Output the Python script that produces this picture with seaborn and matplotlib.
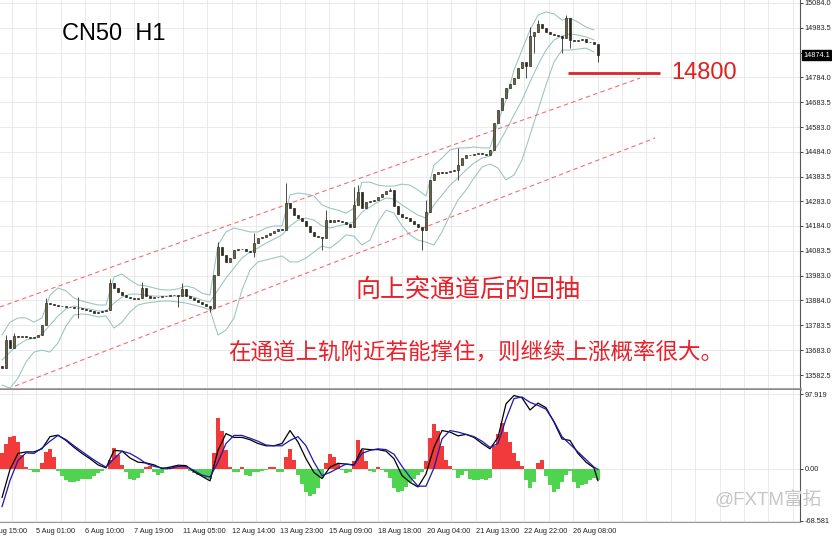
import matplotlib
matplotlib.use("Agg")
import matplotlib.pyplot as plt
import matplotlib.transforms as mtrans
import numpy as np
import seaborn as sns

sns.set_theme(style="white")
plt.rcParams["font.family"] = ["Liberation Sans", "Noto Sans CJK SC", "DejaVu Sans"]

# --- CN50 H1 price bars (one candle per ~2.6 h slot) ---
first_open = 13620
close = [
    13611, 13724, 13692, 13740, 13736, 13740, 13736, 13732, 13736, 13744,
    13784, 13873, 13869, 13865, 13861, 13861, 13857, 13857, 13853, 13853,
    13849, 13845, 13841, 13833, 13837, 13841, 13845, 13954, 13934, 13918,
    13905, 13897, 13893, 13889, 13893, 13934, 13901, 13893, 13897, 13897,
    13901, 13901, 13905, 13905, 13901, 13930, 13901, 13893, 13885, 13877,
    13869, 13861, 13853, 13986, 14099, 14067, 14039, 14055, 14087, 14091,
    14091, 14083, 14079, 14115, 14135, 14139, 14148, 14156, 14164, 14172,
    14168, 14277, 14257, 14228, 14216, 14204, 14184, 14160, 14143, 14139,
    14135, 14208, 14200, 14208, 14204, 14200, 14192, 14180, 14269, 14321,
    14257, 14281, 14285, 14289, 14301, 14313, 14325, 14329, 14265, 14232,
    14220, 14216, 14204, 14192, 14180, 14168, 14240, 14370, 14394, 14402,
    14398, 14402, 14406, 14410, 14430, 14458, 14470, 14470, 14474, 14479,
    14474, 14470, 14491, 14600, 14652, 14701, 14741, 14757, 14781, 14822,
    14846, 14830, 14951, 14967, 15000, 14983, 14967, 14959, 14955, 14951,
    14943, 15023, 14935, 14931, 14935, 14939, 14926, 14926, 14918, 14874.1,
]
# bars whose wick sticks out of the body
wick_bar = [1, 3, 11, 19, 27, 35, 44, 45, 52, 54, 63, 71, 80, 81, 88, 89, 97,
            105, 106, 114, 131, 132, 133, 134, 140, 141, 142, 149]
nan = np.nan
wick_high = [13745, 13752, 13893, 13897, 13970, 13958, nan, 13954, nan, 14119,
             14156, 14357, nan, 14248, 14341, 14349, 14337, nan, 14289, 14499,
             nan, 14987, nan, 15015, nan, 15035, nan, nan]
wick_low = [nan, nan, nan, 13813, nan, nan, 13857, nan, 13837, nan,
            14059, nan, 14087, nan, nan, nan, nan, 14087, nan, 14370,
            14781, nan, 14882, nan, 14882, nan, 14902, 14846]

# --- Bollinger bands, every second bar ---
bb_bar = list(range(0, 150, 2))
bb_upper = [
    13744, 13796, 13813, 13813, 13796, 13813, 13905, 13934, 13922, 13893,
    13881, 13873, 13865, 13865, 13978, 13990, 13966, 13946, 13942, 13934,
    13926, 13926, 13930, 13942, 13934, 13913, 13905, 14107, 14160, 14176,
    14168, 14160, 14160, 14176, 14184, 14184, 14309, 14317, 14313, 14305,
    14269, 14256, 14248, 14236, 14256, 14361, 14361, 14349, 14345, 14345,
    14353, 14349, 14329, 14305, 14430, 14458, 14491, 14499, 14499, 14503,
    14499, 14499, 14604, 14692, 14813, 14894, 14975, 15035, 15048, 15040,
    15015, 15023, 15007, 14987, 14975,
]
bb_mid = [
    13643, 13675, 13704, 13724, 13732, 13748, 13784, 13821, 13849, 13861,
    13853, 13849, 13841, 13841, 13873, 13897, 13909, 13909, 13905, 13901,
    13901, 13901, 13901, 13905, 13897, 13885, 13877, 13926, 13974, 14014,
    14055, 14079, 14095, 14115, 14131, 14148, 14184, 14208, 14216, 14208,
    14184, 14176, 14184, 14192, 14200, 14240, 14261, 14281, 14297, 14293,
    14269, 14248, 14228, 14216, 14269, 14309, 14349, 14378, 14410, 14438,
    14458, 14466, 14511, 14571, 14632, 14692, 14765, 14834, 14894, 14935,
    14951, 14959, 14955, 14947, 14935,
]
bb_lower = [
    13542, 13530, 13570, 13635, 13675, 13683, 13675, 13712, 13780, 13825,
    13829, 13825, 13817, 13821, 13772, 13796, 13837, 13865, 13873, 13877,
    13881, 13881, 13877, 13873, 13865, 13857, 13845, 13744, 13764, 13813,
    13926, 14006, 14039, 14047, 14055, 14063, 14039, 14039, 14055, 14079,
    14103, 14095, 14119, 14148, 14143, 14107, 14127, 14200, 14248, 14236,
    14184, 14148, 14127, 14119, 14107, 14160, 14228, 14289, 14329, 14378,
    14422, 14434, 14418, 14370, 14390, 14450, 14551, 14652, 14753, 14846,
    14894, 14894, 14898, 14902, 14886,
]

# channel lines and the 14800 level
chan_up_x, chan_up_y = [-0.5, 159.5], [13857, 14781]
chan_lo_x, chan_lo_y = [3.25, 163.25], [13538, 14539]
level_x, level = [141.5, 164.5], 14800
last_price = 14874.1

# --- oscillator panel ---
osc_hist = [
    20, 32, 42, 43, 35, 18, 2, -2, -5, -4,
    8, 22, 26, 15, -3, -10, -15, -18, -18, -16,
    -14, -13, -13, -10, -6, -3, 0, 12, 27, 18,
    5, -5, -14, -15, -12, -6, 2, 3, -5, -8,
    -6, -2, 2, 3, 4, 5, 3, -3, -6, -8,
    -10, -12, -14, 20, 66, 50, 25, 2, -4, -5,
    2, -8, -10, -5, -4, -3, -2, 2, 2, -4,
    -5, 15, 26, 12, -8, -20, -30, -36, -33, -25,
    -12, 8, 19, 15, 6, -2, -6, -5, 10, 37,
    25, 10, -3, -4, 2, -2, -5, -12, -25, -30,
    -29, -24, -18, -14, -8, -4, 10, 40, 59, 50,
    30, 12, 3, -2, -12, -8, -3, -14, -15, -15,
    -14, -15, -12, 30, 45, 60, 48, 35, 20, 10,
    4, -15, -26, -18, 8, 12, -10, -22, -30, -27,
    -18, -8, -3, -18, -25, -22, -20, -15, -12, -15,
]
osc_bar = list(range(0, 150, 2)) + [149]
osc_main = [
    -38, -1, 20, 22, 22, 26, 42, 44, 37, 28,
    20, 13, 5, 1, 24, 23, 14, 8.5, 7.5, 5,
    0, 2, 4.5, 4, -4, -10, -16, 24, 46, 41,
    41, 38, 33, 30, 30, 33, 50, 35, 13, -5,
    -13, 2, 7, 6, 5, 26, 25, 25, 23, 13,
    -9, -18, -24, -7, 28, 50, 48, 43, 45, 41,
    33, 26, 41, 85, 96, 93, 77, 86, 80, 61,
    39, 37, 20, 8.5, 1, -16,
]
osc_signal = [
    -50, -15.6, 10.7, 20.7, 20, 27, 36, 43.6, 38, 30,
    22.5, 15, 8, 2, 13, 23, 20, 14, 7, 3,
    1, 0, 3, 3, -2.5, -8.5, -11, 8.5, 33, 43.6,
    43.6, 40, 36, 31, 30, 30, 37, 42, 30, 8.5,
    -9, -5, 0.6, 6, 4.5, 20, 24, 26, 25, 19,
    3, -11, -23, -23, 1, 39, 50, 48, 45, 42,
    36, 28, 33, 65, 92, 94, 87, 83, 78, 62,
    42, 32, 22, 12, 2, -1,
]

price_ticks = [15084.0, 14983.5, 14883.0, 14784.0, 14683.5, 14583.0, 14484.0,
               14383.5, 14283.0, 14184.0, 14083.5, 13983.0, 13884.0, 13783.5,
               13683.0, 13582.5]
osc_ticks = [97.919, 0.0, -68.581]
date_labels = ["4 Aug 15:00", "5 Aug 01:00", "6 Aug 10:00", "7 Aug 19:00",
               "11 Aug 05:00", "12 Aug 14:00", "13 Aug 23:00", "15 Aug 09:00",
               "18 Aug 18:00", "20 Aug 04:00", "21 Aug 13:00", "22 Aug 22:00",
               "26 Aug 08:00"]

# ---------------------------------------------------------------
W, H = 832, 536
fig = plt.figure(figsize=(W / 100, H / 100), dpi=100)
fig.patch.set_facecolor("white")
ax = fig.add_axes([0, 1 - 389 / H, 800 / W, 389 / H])
ax2 = fig.add_axes([0, 1 - 522 / H, 800 / W, 132 / H])

xlim = (-0.5, 199.5)
grid_all = -3.6 + 6.1 * np.arange(0, 34)
grid_pos = grid_all[grid_all > xlim[0]]
grid_col = "#e6e6e6"
tick_col = "#222222"
fs = 5.3

# price panel
ax.set_xticks(grid_pos)
ax.tick_params(axis="x", length=0, labelbottom=False)
ax.set_yticks(price_ticks)
ax.set_yticklabels(["" if t == 14883.0 else f"{t:.1f}" for t in price_ticks])
ax.yaxis.tick_right()
ax.tick_params(axis="y", labelsize=fs, length=2, width=0.6, pad=1.5,
               colors=tick_col)
ax.grid(True, color=grid_col, linewidth=0.6)
ax.set_axisbelow(True)

bb_col = "#97c6b8"
for band in (bb_upper, bb_mid, bb_lower):
    sns.lineplot(x=bb_bar, y=band, ax=ax, color=bb_col, linewidth=0.75,
                 estimator=None, sort=False, legend=False, zorder=2)

ax.plot(chan_up_x, chan_up_y, color="#f07070", lw=0.8, ls=(0, (4, 3)), zorder=2)
ax.plot(chan_lo_x, chan_lo_y, color="#f07070", lw=0.8, ls=(0, (4, 3)), zorder=2)
ax.plot(level_x, [level, level], color="#d8262a", lw=2.0, zorder=3,
        solid_capstyle="butt", clip_on=False)

# candles
idx = np.arange(len(close))
close_a = np.array(close, dtype=float)
open_a = np.concatenate([[first_open], close_a[:-1]])
high_a = np.maximum(open_a, close_a)
low_a = np.minimum(open_a, close_a)
for b, h, l in zip(wick_bar, wick_high, wick_low):
    if not np.isnan(h):
        high_a[b] = h
    if not np.isnan(l):
        low_a[b] = l
up = close_a >= open_a
ax.vlines(idx, low_a, high_a, color="#2e2e26", lw=0.6, zorder=4)
ax.bar(idx[up], (close_a - open_a)[up], bottom=open_a[up], width=0.6,
       color="#6a6446", edgecolor="#2e2e26", linewidth=0.5, zorder=5)
ax.bar(idx[~up], (close_a - open_a)[~up], bottom=open_a[~up], width=0.6,
       color="#2a2a22", edgecolor="#2a2a22", linewidth=0.5, zorder=5)

ax.set_xlim(*xlim)
ax.set_ylim(13526.1, 15096.1)
for s in ("top", "left"):
    ax.spines[s].set_visible(False)
ax.spines["right"].set_color("#555555")
ax.spines["right"].set_linewidth(0.8)
ax.spines["bottom"].set_color("#8a8a8a")
ax.spines["bottom"].set_linewidth(1.8)

ax.text(1.004, last_price, f"{last_price:.1f}", transform=ax.get_yaxis_transform(),
        ha="left", va="center", fontsize=fs, color="white", clip_on=False,
        bbox=dict(boxstyle="square,pad=0.2", fc="black", ec="black"))

# oscillator panel
hist = np.array(osc_hist, dtype=float)
ax2.bar(idx, hist, width=0.9,
        color=np.where(hist >= 0, "#f23a3a", "#4fd44f"), linewidth=0, zorder=2)
sns.lineplot(x=osc_bar, y=osc_main, ax=ax2, color="black", linewidth=0.9,
             estimator=None, sort=False, legend=False, zorder=3)
sns.lineplot(x=osc_bar, y=osc_signal, ax=ax2, color="#1a1ab0", linewidth=0.9,
             estimator=None, sort=False, legend=False, zorder=3)

ax2.set_yticks(osc_ticks)
ax2.set_yticklabels(["97.919", "0.00", "-68.581"])
ax2.yaxis.tick_right()
ax2.tick_params(axis="y", labelsize=fs, length=2, width=0.6, pad=1.5,
                colors=tick_col)
ax2.set_xticks(grid_pos)
lab_list = []
for g in grid_pos:
    k = int(round((g - grid_all[0]) / 6.1))
    ok = k % 2 == 0 and k // 2 < len(date_labels)
    lab_list.append(date_labels[k // 2] if ok else "")
ax2.set_xticklabels(lab_list)
ax2.tick_params(axis="x", labelsize=fs, length=0, pad=4, colors=tick_col)
for lab in ax2.get_xticklabels():
    lab.set_ha("left")
ax2.grid(True, color=grid_col, linewidth=0.6)
ax2.set_axisbelow(True)
ax2.set_xlim(*xlim)
ax2.set_ylim(-70.0, 103.2)
# first date label sits left of the plot edge and is cut by the figure, as in the source
ax2.text(grid_all[0], -70.0, date_labels[0], ha="left", va="top", fontsize=fs,
         color=tick_col, clip_on=False,
         transform=ax2.transData + mtrans.ScaledTranslation(
             0, -4 / 72, fig.dpi_scale_trans))
for s in ("top", "left"):
    ax2.spines[s].set_visible(False)
ax2.spines["right"].set_color("#555555")
ax2.spines["right"].set_linewidth(0.8)
ax2.spines["bottom"].set_color("#9a9a9a")
ax2.spines["bottom"].set_linewidth(0.8)

# texts
fig.text(62 / W, 1 - 34 / H, "CN50  H1", fontsize=17, color="black",
         ha="left", va="center")
fig.text(671 / W, 1 - 73 / H, "14800", fontsize=17, color="#e0201e",
         ha="left", va="center")
red_txt = "#e8202a"
fig.text(355 / W, 1 - 290 / H, "向上突通道后的回抽", fontsize=18, color=red_txt,
         ha="left", va="center")
fig.text(228 / W, 1 - 353 / H, "在通道上轨附近若能撑住，则继续上涨概率很大。",
         fontsize=16.2, color=red_txt, ha="left", va="center")
fig.text(715 / W, 1 - 501 / H, "@FXTM富拓", fontsize=13.5, color="#c6c6c6",
         ha="left", va="center", zorder=10)

fig.savefig("out.png", dpi=100, facecolor="white")
